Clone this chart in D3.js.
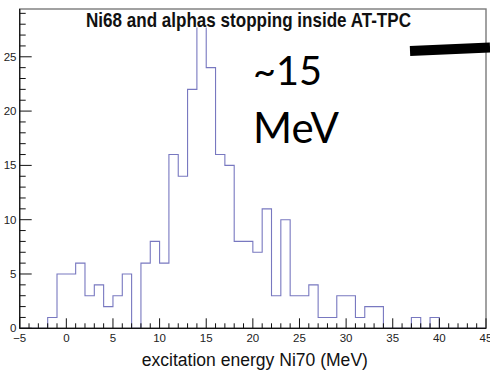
<!DOCTYPE html>
<html><head><meta charset="utf-8">
<script src="https://cdn.jsdelivr.net/npm/d3@7"></script>
<style>body{margin:0;background:#fff}svg{display:block}</style>
</head><body>
<svg id="c" width="490" height="370"></svg>
<script>
// Data
const binStart = -5;
const binWidth = 1;
const counts = [0,0,0,1,5,5,6,3,4,2,3,5,0,6,8,6,16,14,22,28,24,16,15,8,8,7,11,3,10,3,3,4,1,1,3,3,1,2,2,0,0,0,1,0,1,0,0,0,0,0];
const xTicks = [-5,0,5,10,15,20,25,30,35,40,45];
const yTicks = [0,5,10,15,20,25];
const titleText = "Ni68 and alphas stopping inside AT-TPC";
const xLabel = "excitation energy Ni70 (MeV)";
const note1 = "~15", note2 = "MeV";

const svg = d3.select("#c");
const L = 19.7, R = 486, T = 9, B = 328.3;
const x = d3.scaleLinear().domain([-5,45]).range([L,R]);
const y = d3.scaleLinear().domain([0, d3.max(counts)*1.05]).range([B,T]);

// histogram step path
const pts = [[binStart,0]];
counts.forEach((c,i)=>{const x0=binStart+i*binWidth; pts.push([x0,c]); pts.push([x0+binWidth,c]);});
pts.push([binStart+counts.length*binWidth,0]);
svg.append("path")
  .attr("d", d3.line().x(d=>x(d[0])).y(d=>y(d[1]))(pts))
  .attr("fill","none").attr("stroke","#7878c0").attr("stroke-width",1.1);

// frame
svg.append("rect").attr("x",L).attr("y",T).attr("width",R-L).attr("height",B-T)
  .attr("fill","none").attr("stroke","#7a7a7a").attr("stroke-width",1.4);

// x axis ticks (inside)
const xa = svg.append("g");
d3.range(-5,45.001,1).forEach(v=>{
  const major = v%5===0;
  xa.append("line").attr("x1",x(v)).attr("x2",x(v)).attr("y1",B).attr("y2",B-(major?10:5))
    .attr("stroke","#111").attr("stroke-width",1);
});
xa.append("line").attr("x1",L).attr("x2",R).attr("y1",B).attr("y2",B).attr("stroke","#111").attr("stroke-width",1.2);
xTicks.forEach(v=>{
  xa.append("text").attr("x",x(v)).attr("y",341.5).attr("text-anchor","middle")
    .attr("font-family","Liberation Sans, Arial, sans-serif").attr("font-size",11.5).attr("fill","#222")
    .text(v<0?"\u2212"+Math.abs(v):v);
});
// y axis ticks
const ya = svg.append("g");
d3.range(0,29.001,1).forEach(v=>{
  const major = v%5===0;
  ya.append("line").attr("x1",L).attr("x2",L+(major?12:6)).attr("y1",y(v)).attr("y2",y(v))
    .attr("stroke","#111").attr("stroke-width",1);
});
ya.append("line").attr("x1",L).attr("x2",L).attr("y1",B).attr("y2",T).attr("stroke","#111").attr("stroke-width",1.2);
yTicks.forEach(v=>{
  ya.append("text").attr("x",16.5).attr("y",y(v)+4).attr("text-anchor","end")
    .attr("font-family","Liberation Sans, Arial, sans-serif").attr("font-size",11.5).attr("fill","#222")
    .text(v);
});

// title box
svg.append("rect").attr("x",85).attr("y",T+1).attr("width",328).attr("height",17.5).attr("fill","#fff");
function fit(t, w){const n=t.node(); const cur=+t.attr("font-size"); const len=n.getComputedTextLength(); t.attr("font-size", cur*w/len);}
const tt = svg.append("text").attr("transform","translate(86,26.5) scale(1,1.15)").attr("font-family","Liberation Sans, Arial, sans-serif")
  .attr("font-weight","bold").attr("font-size",14).attr("fill","#111").text(titleText);
fit(tt, 325);

const xl = svg.append("text").attr("transform","translate(141.7,366) scale(1,1.06)").attr("font-family","Liberation Sans, Arial, sans-serif")
  .attr("font-size",16).attr("fill","#111").text(xLabel);
fit(xl, 226);

// annotations
const n1 = svg.append("text").attr("x",253).attr("y",85).attr("font-family","Lato, sans-serif")
  .attr("font-size",42).attr("fill","#000").text(note1);
fit(n1, 69);
const n2 = svg.append("text").attr("x",253).attr("y",143).attr("font-family","Lato, sans-serif")
  .attr("font-size",42).attr("fill","#000").text(note2);
fit(n2, 86);
svg.append("line").attr("x1",410).attr("y1",51).attr("x2",490).attr("y2",47.5)
  .attr("stroke","#000").attr("stroke-width",10);
</script>
</body></html>
